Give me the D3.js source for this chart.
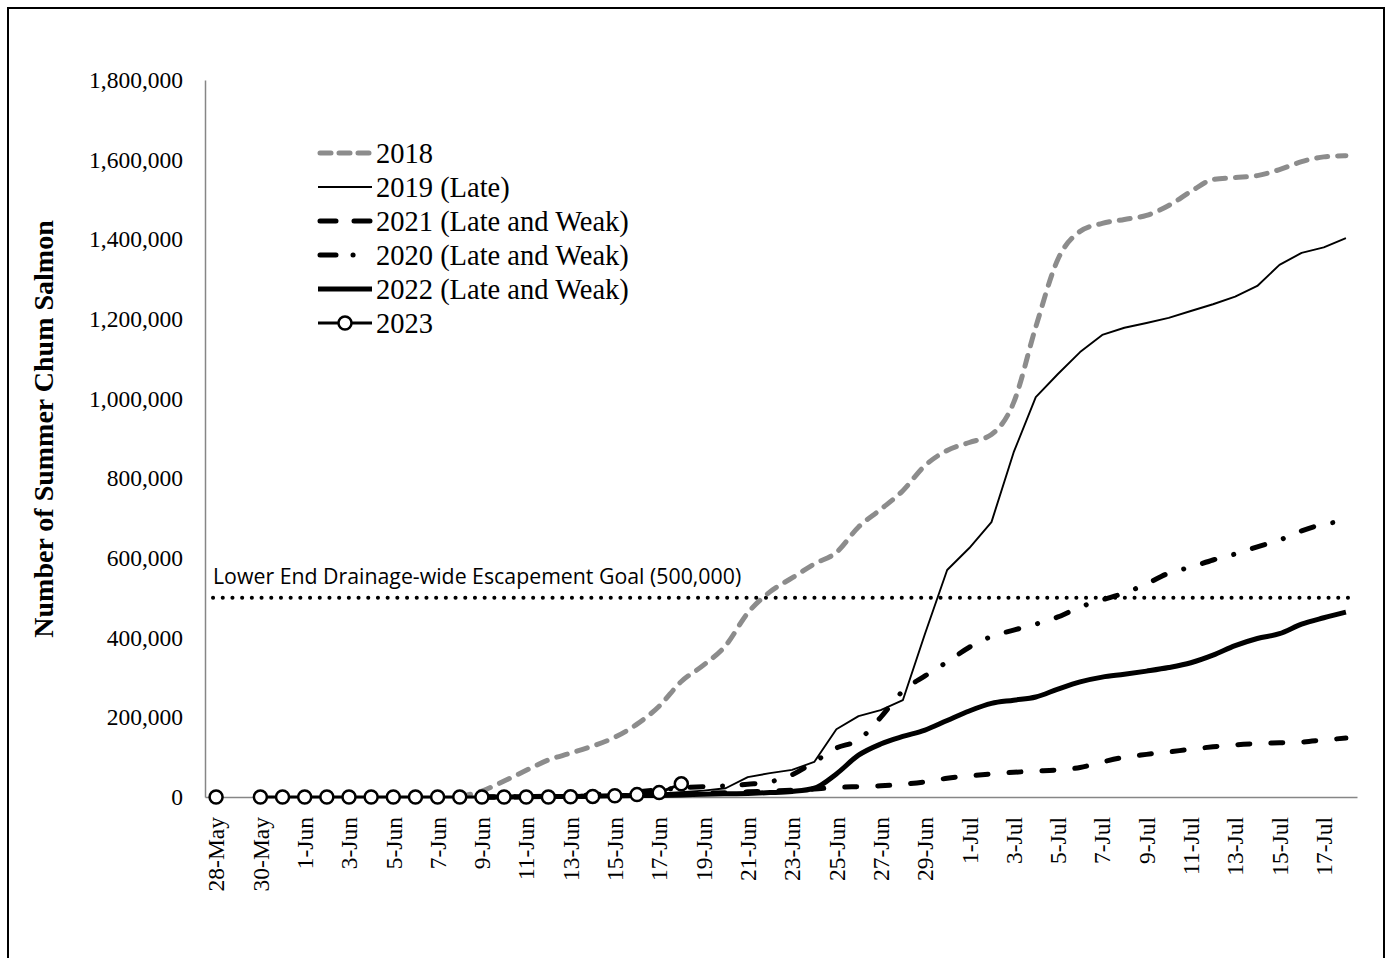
<!DOCTYPE html>
<html>
<head>
<meta charset="utf-8">
<script src="https://cdn.jsdelivr.net/npm/d3@7/dist/d3.min.js"></script>
<style>
  body { margin: 0; background: #fff; }
  svg { display: block; }
  .axis text { font-family: "Liberation Serif", "Times New Roman", serif; font-size: 23.5px; fill: #000; }
</style>
</head>
<body>
<svg id="chart" width="1390" height="958"></svg>
<script>
// run dates, 28-May .. 18-Jul
const days = ["28-May","29-May","30-May","31-May","1-Jun","2-Jun","3-Jun","4-Jun","5-Jun","6-Jun",
  "7-Jun","8-Jun","9-Jun","10-Jun","11-Jun","12-Jun","13-Jun","14-Jun","15-Jun","16-Jun",
  "17-Jun","18-Jun","19-Jun","20-Jun","21-Jun","22-Jun","23-Jun","24-Jun","25-Jun","26-Jun",
  "27-Jun","28-Jun","29-Jun","30-Jun","1-Jul","2-Jul","3-Jul","4-Jul","5-Jul","6-Jul",
  "7-Jul","8-Jul","9-Jul","10-Jul","11-Jul","12-Jul","13-Jul","14-Jul","15-Jul","16-Jul",
  "17-Jul","18-Jul"];

const yTicks = [0,200000,400000,600000,800000,1000000,1200000,1400000,1600000,1800000];
const goal = 500000;

// cumulative passage, one value per day (null = no data)
const y2018 = [null,null,null,null,null,null,null,null,null,null,
  null,1000,15000,40000,67000,93000,110000,128000,150000,183000,
  228000,290000,331000,380000,462000,515000,550000,585000,614000,678000,
  722000,769000,832000,870000,890000,910000,990000,1180000,1350000,1420000,
  1440000,1450000,1460000,1485000,1520000,1550000,1555000,1560000,1575000,1595000,
  1607000,1610000];
const y2019 = [null,null,null,null,null,null,null,null,null,null,
  null,null,0,500,1000,2000,3000,4000,5000,7000,
  9000,12000,16000,22000,50000,60000,68000,88000,170000,203000,
  218000,243000,410000,570000,625000,690000,865000,1004000,1062000,1117000,
  1160000,1178000,1190000,1203000,1220000,1237000,1256000,1283000,1336000,1366000,
  1380000,1403000];
const y2021 = [null,null,null,null,null,null,null,null,null,null,
  null,null,0,0,500,1000,1500,2000,3000,4000,
  5000,7000,9000,11000,13000,15000,17000,20000,24000,26000,
  28000,32000,38000,47000,53000,58000,62000,65000,68000,74000,
  88000,100000,107000,113000,120000,126000,131000,134000,136000,138000,
  143000,148000];
const y2020 = [null,null,null,null,null,null,null,null,null,null,
  null,null,0,500,1000,2000,4000,6000,9000,13000,
  18000,23000,26000,28000,32000,38000,56000,88000,123000,143000,
  200000,266000,304000,339000,376000,403000,419000,434000,452000,477000,
  495000,512000,535000,562000,577000,595000,610000,628000,645000,668000,
  685000,692000];
const y2022 = [null,null,null,null,null,null,null,null,null,null,
  null,null,0,0,500,1000,1500,2000,3000,3500,
  4000,5000,7000,8000,9000,11000,14000,22000,58000,105000,
  133000,152000,168000,192000,216000,235000,243000,251000,271000,289000,
  301000,308000,316000,325000,337000,356000,380000,398000,410000,434000,
  450000,464000];
const y2023 = [0,null,0,0,0,0,0,0,0,0,
  0,0,0,0,0,0,500,1500,3000,6000,
  11000,33000,null,null,null,null,null,null,null,null,
  null,null,null,null,null,null,null,null,null,null,
  null,null,null,null,null,null,null,null,null,null,
  null,null];

// drawn in legend order, last on top
const series = [
  {name: "2018",                 values: y2018, color: "#8c8c8c", width: 5,   dash: "11 10", smooth: true},
  {name: "2019 (Late)",          values: y2019, color: "#000",    width: 1.9, dash: null,    smooth: false},
  {name: "2021 (Late and Weak)", values: y2021, color: "#000",    width: 5,   dash: "12 21", smooth: true},
  {name: "2020 (Late and Weak)", values: y2020, color: "#000",    width: 5,   dash: "13 19.5 0.1 19.5", smooth: true},
  {name: "2022 (Late and Weak)", values: y2022, color: "#000",    width: 5,   dash: null,    smooth: true},
  {name: "2023",                 values: y2023, color: "#000",    width: 3,   dash: null,    smooth: false, marker: true}
];

const svg = d3.select("#chart");

// outer frame
svg.append("rect")
    .attr("x", 8).attr("y", 8).attr("width", 1376).attr("height", 970)
    .attr("fill", "none").attr("stroke", "#000").attr("stroke-width", 2);

const x = d3.scaleBand().domain(days).range([205, 1357]);
const y = d3.scaleLinear().domain([0, 1800000]).range([797, 80]);
const cx = d => x(d) + x.bandwidth() / 2;

// y axis
const yAxis = svg.append("g")
    .attr("class", "axis")
    .attr("transform", "translate(205,0)")
    .call(d3.axisLeft(y).tickValues(yTicks).tickSize(0).tickPadding(22).tickFormat(d3.format(",")));
yAxis.select(".domain").attr("stroke", "#868686").attr("stroke-width", 1.5);

// x axis
const xAxis = svg.append("g")
    .attr("class", "axis")
    .attr("transform", "translate(0,797)")
    .call(d3.axisBottom(x).tickValues(days.filter((d, i) => i % 2 === 0)).tickSize(0));
xAxis.select(".domain").attr("stroke", "#868686").attr("stroke-width", 1.5);
xAxis.selectAll("text")
    .attr("transform", "rotate(-90)")
    .attr("x", -20)
    .attr("y", 0)
    .attr("dy", "0.35em")
    .style("text-anchor", "end");

// y axis title
svg.append("text")
    .attr("transform", "translate(53,429)rotate(-90)")
    .attr("text-anchor", "middle")
    .style("font-family", "'Liberation Serif', 'Times New Roman', serif")
    .style("font-weight", "bold")
    .style("font-size", "28px")
    .text("Number of Summer Chum Salmon");

// escapement goal
svg.append("line")
    .attr("x1", x.range()[0] + 8).attr("x2", x.range()[1])
    .attr("y1", y(goal)).attr("y2", y(goal))
    .attr("stroke", "#000").attr("stroke-width", 4)
    .attr("stroke-linecap", "round")
    .attr("stroke-dasharray", "0.1 9.6");
svg.append("text")
    .attr("x", 213).attr("y", y(goal) - 14)
    .style("font-family", "'Open Sans', 'Noto Sans', sans-serif")
    .style("font-size", "21.3px")
    .text("Lower End Drainage-wide Escapement Goal (500,000)");

// lines
series.forEach(function(s) {
  const pts = days.map((d, i) => ({day: d, v: s.values[i]}));
  const line = d3.line()
      .defined(p => p.v !== null)
      .x(p => cx(p.day))
      .y(p => y(p.v))
      .curve(s.smooth ? d3.curveMonotoneX : d3.curveLinear);
  svg.append("path")
      .datum(pts)
      .attr("d", line)
      .attr("fill", "none")
      .attr("stroke", s.color)
      .attr("stroke-width", s.width)
      .attr("stroke-linejoin", "round")
      .attr("stroke-linecap", s.dash ? "round" : "butt")
      .attr("stroke-dasharray", s.dash);
  if (s.marker) {
    svg.selectAll(null)
      .data(pts.filter(p => p.v !== null))
      .enter().append("circle")
        .attr("cx", p => cx(p.day))
        .attr("cy", p => y(p.v))
        .attr("r", 6.5)
        .attr("fill", "#fff")
        .attr("stroke", "#000")
        .attr("stroke-width", 2.5);
  }
});

// legend
const legend = svg.append("g").attr("transform", "translate(318,153)");
series.forEach(function(s, i) {
  const g = legend.append("g").attr("transform", "translate(0," + (i * 34) + ")");
  g.append("line")
      .attr("x1", s.dash ? 2 : 0).attr("x2", s.dash ? 52 : 54)
      .attr("y1", 0).attr("y2", 0)
      .attr("stroke", s.color)
      .attr("stroke-width", s.width)
      .attr("stroke-linecap", s.dash ? "round" : "butt")
      .attr("stroke-dasharray", s.name === "2018" ? "11 8" : s.name.startsWith("2020") ? "16 17 0.1 30" : s.name.startsWith("2021") ? "16 18" : s.dash);
  if (s.marker) {
    g.append("circle")
        .attr("cx", 27).attr("cy", 0).attr("r", 6.5)
        .attr("fill", "#fff").attr("stroke", "#000").attr("stroke-width", 2.5);
  }
  g.append("text")
      .attr("x", 58).attr("y", 0).attr("dy", "0.35em")
      .style("font-family", "'Liberation Serif', 'Times New Roman', serif")
      .style("font-size", "28.5px")
      .text(s.name);
});
</script>
</body>
</html>
